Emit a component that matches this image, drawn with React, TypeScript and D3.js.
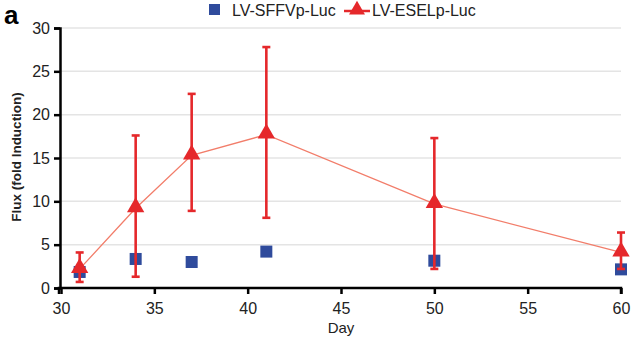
import React, { useEffect, useRef } from 'react';
import * as d3 from 'd3';

const days = [31, 34, 37, 41, 50, 60];
const sffv = [1.85, 3.35, 3.0, 4.2, 3.15, 2.15];
const esel = [2.2, 9.2, 15.3, 17.7, 9.7, 4.1];
const eselLow = [0.7, 1.3, 8.9, 8.1, 2.2, 2.2];
const eselHigh = [4.1, 17.6, 22.4, 27.8, 17.3, 6.4];
const xTicks = [30, 35, 40, 45, 50, 55, 60];
const yTicks = [0, 5, 10, 15, 20, 25, 30];

const RED = '#e5282b';
const BLUE = '#2f4b9c';
const FONT = 'Liberation Sans, Arial, sans-serif';

const App: React.FC = () => {
	const ref = useRef<SVGSVGElement | null>(null);

	useEffect(() => {
		if (!ref.current) return;
		const svg = d3.select(ref.current);
		svg.selectAll('*').remove();

		const x = d3.scaleLinear().domain([30, 60]).range([61, 621]);
		const y = d3.scaleLinear().domain([0, 30]).range([288, 28]);

		// gridlines
		svg.append('g')
			.selectAll('line')
			.data(yTicks.filter((t) => t > 0))
			.enter()
			.append('line')
			.attr('x1', 60)
			.attr('x2', 621)
			.attr('y1', (d) => y(d))
			.attr('y2', (d) => y(d))
			.attr('stroke', '#e4e4e4')
			.attr('stroke-width', 1.5);

		// y axis
		const ya = svg.append('g').attr('transform', 'translate(60,0)').call(d3.axisLeft(y).tickValues(yTicks).tickSize(6).tickPadding(4));
		ya.select('.domain').attr('stroke', '#000').attr('stroke-width', 2.5);
		ya.selectAll('.tick line').attr('stroke', '#000').attr('stroke-width', 2.5);
		ya.selectAll('text').attr('font-size', 16).attr('font-family', FONT).attr('fill', '#222');

		// x axis
		const xa = svg.append('g').attr('transform', 'translate(0,288)').call(d3.axisBottom(x).tickValues(xTicks).tickSize(6).tickPadding(9));
		xa.select('.domain').attr('stroke', '#000').attr('stroke-width', 2.5).attr('d', `M59,6V0H621V6`);
		xa.selectAll('.tick line').attr('stroke', '#000').attr('stroke-width', 2.5);
		xa.selectAll('text').attr('font-size', 16).attr('font-family', FONT).attr('fill', '#222');

		// axis titles
		svg.append('text').attr('x', 341).attr('y', 333).attr('text-anchor', 'middle').attr('font-size', 15).attr('font-family', FONT).attr('fill', '#222').text('Day');
		svg.append('text')
			.attr('transform', 'translate(21,157) rotate(-90)')
			.attr('text-anchor', 'middle')
			.attr('font-size', 13.5)
			.attr('font-weight', 'bold')
			.attr('font-family', FONT)
			.attr('fill', '#222')
			.text('Flux (fold Induction)');
		svg.append('text').attr('x', 4).attr('y', 24).attr('font-size', 26).attr('font-weight', 'bold').attr('font-family', FONT).text('a');

		// ESEL line
		const line = d3.line<number>().x((_, i) => x(days[i])).y((d) => y(d));
		svg.append('path').datum(esel).attr('d', line).attr('fill', 'none').attr('stroke', '#f27d6a').attr('stroke-width', 1.3);

		// SFFV squares
		svg.append('g')
			.selectAll('rect')
			.data(sffv)
			.enter()
			.append('rect')
			.attr('x', (_, i) => x(days[i]) - 6)
			.attr('y', (d) => y(d) - 6)
			.attr('width', 12)
			.attr('height', 12)
			.attr('fill', BLUE);

		// error bars
		const eb = svg.append('g').attr('stroke', RED).attr('stroke-width', 2.6);
		days.forEach((dd, i) => {
			const cx = x(dd);
			eb.append('line').attr('x1', cx).attr('x2', cx).attr('y1', y(eselLow[i])).attr('y2', y(eselHigh[i]));
			eb.append('line').attr('x1', cx - 4).attr('x2', cx + 4).attr('y1', y(eselLow[i])).attr('y2', y(eselLow[i]));
			eb.append('line').attr('x1', cx - 4).attr('x2', cx + 4).attr('y1', y(eselHigh[i])).attr('y2', y(eselHigh[i]));
		});

		// triangles
		const tri = d3.symbol().type(d3.symbolTriangle).size(130);
		svg.append('g')
			.selectAll('path')
			.data(esel)
			.enter()
			.append('path')
			.attr('d', tri)
			.attr('transform', (d, i) => `translate(${x(days[i])},${y(d) - 1})`)
			.attr('fill', RED);

		// legend
		const lg = svg.append('g').attr('font-family', FONT).attr('font-size', 16).attr('fill', '#222');
		lg.append('rect').attr('x', 209).attr('y', 4).attr('width', 11).attr('height', 11).attr('fill', BLUE);
		lg.append('text').attr('x', 232).attr('y', 16).text('LV-SFFVp-Luc');
		lg.append('line').attr('x1', 344).attr('x2', 370).attr('y1', 11).attr('y2', 11).attr('stroke', RED).attr('stroke-width', 2.5);
		lg.append('path').attr('d', d3.symbol().type(d3.symbolTriangle).size(110)).attr('transform', 'translate(357,10)').attr('fill', RED);
		lg.append('text').attr('x', 372).attr('y', 16).text('LV-ESELp-Luc');
	}, []);

	return (
		<svg ref={ref} width={632} height={342} viewBox="0 0 632 342" style={{ position: 'absolute', left: 0, top: 0, background: '#fff' }} />
	);
};

export default App;
